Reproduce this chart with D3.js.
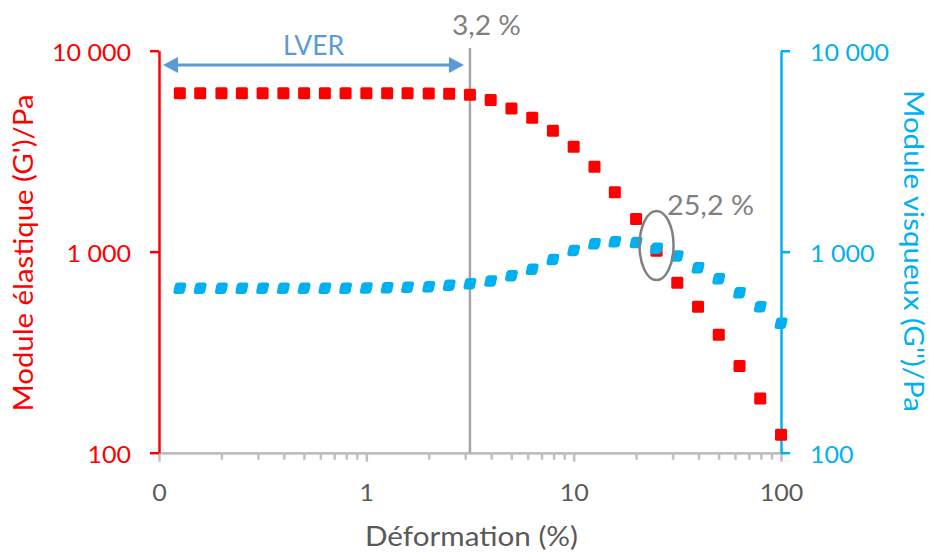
<!DOCTYPE html>
<html><head><meta charset="utf-8">
<script src="https://cdn.jsdelivr.net/npm/d3@7"></script>
<style>
body{margin:0;background:#fff;}
svg{display:block;font-family:Lato,"Open Sans",sans-serif;}
</style></head>
<body>
<svg id="chart" width="929" height="556"></svg>
<script>
// ---- data ----
const strain = [0.126,0.158,0.2,0.251,0.316,0.398,0.501,0.631,0.794,1,1.26,1.58,2,2.51,3.16,3.98,5.01,6.31,7.94,10,12.6,15.8,20,25.1,31.6,39.8,50.1,63.1,79.4,100];
const gPrime = [6150,6150,6150,6150,6150,6150,6150,6150,6150,6150,6150,6140,6130,6100,6040,5690,5160,4640,4000,3330,2650,1975,1455,1010,700,532,386,270,186,123];
const gSecond = [657,657,657,657,657,657,657,657,657,660,662,665,670,680,693,715,760,818,915,1015,1095,1120,1110,1040,952,832,734,625,533,440];
const xMajor = [0.1,1,10,100];
const xMajorLabels = ["0","1","10","100"];
const yTicks = [100,1000,10000];
const yTickLabels = ["100","1 000","10 000"];
const lverEnd = 3.16, lverStart = 0.1;
const lverLabel = "3,2 %";
const crossX = 25.1, crossY = 1025;
const crossLabel = "25,2 %";

// ---- chart ----
const svg = d3.select("#chart");
const RED = "#ff0000", BLUE = "#00b0f0", GRAY = "#595959";
const x = d3.scaleLog().domain([0.1,100]).range([159,781]);
const y = d3.scaleLog().domain([100,10000]).range([452.7,50.7]);

function fit(sel, w){ sel.attr("textLength", w).attr("lengthAdjust","spacingAndGlyphs"); return sel; }
// stretch a group of labels horizontally by the same factor
function stretch(sel, k){
  sel.each(function(){ const L = this.getComputedTextLength();
    d3.select(this).attr("textLength", L*k).attr("lengthAdjust","spacingAndGlyphs"); });
}

// minor ticks
const xMinor = [];
[0.1,1,10].forEach(d => { for(let k=2;k<=9;k++) xMinor.push(+(d*k).toFixed(4)); });

// x axis
const xAxisG = svg.append("g").attr("transform","translate(0,452.7)");
xAxisG.call(d3.axisBottom(x).tickValues(xMinor).tickSize(7).tickSizeOuter(0).tickFormat(""));
const xMaj = svg.append("g").attr("transform","translate(0,452.7)")
  .call(d3.axisBottom(x).tickValues(xMajor).tickSize(9).tickSizeOuter(0)
    .tickFormat((d,i)=>xMajorLabels[i]));
[xAxisG,xMaj].forEach(g=>{
  g.select(".domain").attr("stroke","#bfbfbf").attr("stroke-width",2.5);
  g.selectAll(".tick line").attr("stroke","#bfbfbf").attr("stroke-width",2.5);
});
xMaj.selectAll(".tick text").attr("fill",GRAY).attr("font-size",24).attr("dy",0).attr("y",48.5).attr("font-family","Lato");

// vertical LVER line
svg.append("line").attr("x1",x(lverEnd)).attr("x2",x(lverEnd)).attr("y1",48).attr("y2",452.7)
  .attr("stroke","#a6a6a6").attr("stroke-width",2.5);

// left axis
const yl = svg.append("g").attr("transform","translate(159,0)")
  .call(d3.axisLeft(y).tickValues(yTicks).tickSize(9).tickSizeOuter(0).tickFormat((d,i)=>yTickLabels[i]));
yl.select(".domain").attr("stroke",RED).attr("stroke-width",2.5);
yl.selectAll(".tick line").attr("stroke",RED).attr("stroke-width",2.5);
yl.selectAll(".tick text").attr("fill",RED).attr("font-size",24).attr("x",-28).attr("dy","0.4em").attr("font-family","Lato");

// right axis
const yr = svg.append("g").attr("transform","translate(781,0)")
  .call(d3.axisRight(y).tickValues(yTicks).tickSize(9).tickSizeOuter(0).tickFormat((d,i)=>yTickLabels[i]));
yr.select(".domain").attr("stroke",BLUE).attr("stroke-width",2.5);
yr.selectAll(".tick line").attr("stroke",BLUE).attr("stroke-width",2.5);
yr.selectAll(".tick text").attr("fill",BLUE).attr("font-size",24).attr("x",29).attr("dy","0.4em").attr("font-family","Lato");

// widen tick labels to match the reference proportions
const refW = yl.selectAll(".tick text").filter((d,i)=>i===2).node().getComputedTextLength();
const kTick = 79 / refW;
stretch(yl.selectAll(".tick text"), kTick);
stretch(yr.selectAll(".tick text"), kTick);
stretch(xMaj.selectAll(".tick text"), kTick);

// G' red squares
const S = 12;
svg.append("g").selectAll("rect").data(strain).join("rect")
  .attr("x",d=>x(d)-S/2).attr("y",(d,i)=>y(gPrime[i])-S/2)
  .attr("width",S).attr("height",S).attr("rx",1.5).attr("fill",RED);

// G'' blue markers
const B = 11.5;
svg.append("g").selectAll("g").data(strain).join("g")
  .attr("transform",(d,i)=>`translate(${x(d)},${y(gSecond[i])})`)
  .append("rect").attr("x",-B/2).attr("y",-B/2).attr("width",B).attr("height",B).attr("rx",3)
  .attr("transform","skewX(-12)").attr("fill",BLUE);

// LVER arrow
const LB = "#5b9bd5";
const ay = 65;
const ax1 = x(lverStart)+4, ax2 = x(lverEnd)-6;
svg.append("line").attr("x1",ax1+12).attr("x2",ax2-12).attr("y1",ay).attr("y2",ay).attr("stroke",LB).attr("stroke-width",3);
svg.append("path").attr("d",`M${ax1},${ay} L${ax1+15},${ay-8} L${ax1+15},${ay+8} Z`).attr("fill",LB);
svg.append("path").attr("d",`M${ax2},${ay} L${ax2-15},${ay-8} L${ax2-15},${ay+8} Z`).attr("fill",LB);
fit(svg.append("text").attr("x",283).attr("y",55)
  .attr("fill",LB).attr("font-size",27).text("LVER"), 61);

// 3,2 % label
fit(svg.append("text").attr("x",452).attr("y",35)
  .attr("fill","#7f7f7f").attr("font-size",27).text(lverLabel), 69);

// ellipse at crossover
svg.append("ellipse").attr("cx",x(crossX)).attr("cy",y(crossY)-4).attr("rx",17).attr("ry",34.5)
  .attr("fill","none").attr("stroke","#808080").attr("stroke-width",2.5);
fit(svg.append("text").attr("x",667).attr("y",215).attr("fill","#7f7f7f").attr("font-size",27).text(crossLabel), 87);

// axis titles
fit(svg.append("text").attr("transform","translate(33,253) rotate(-90)").attr("text-anchor","middle")
  .attr("fill",RED).attr("font-size",26).text("Module élastique (G')/Pa"), 317);
fit(svg.append("text").attr("transform","translate(904,251) rotate(90)").attr("text-anchor","middle")
  .attr("fill",BLUE).attr("font-size",26).text("Module visqueux (G'')/Pa"), 322);
fit(svg.append("text").attr("x",365).attr("y",546)
  .attr("fill",GRAY).attr("font-size",26).text("Déformation (%)"), 213);
</script>
</body></html>
